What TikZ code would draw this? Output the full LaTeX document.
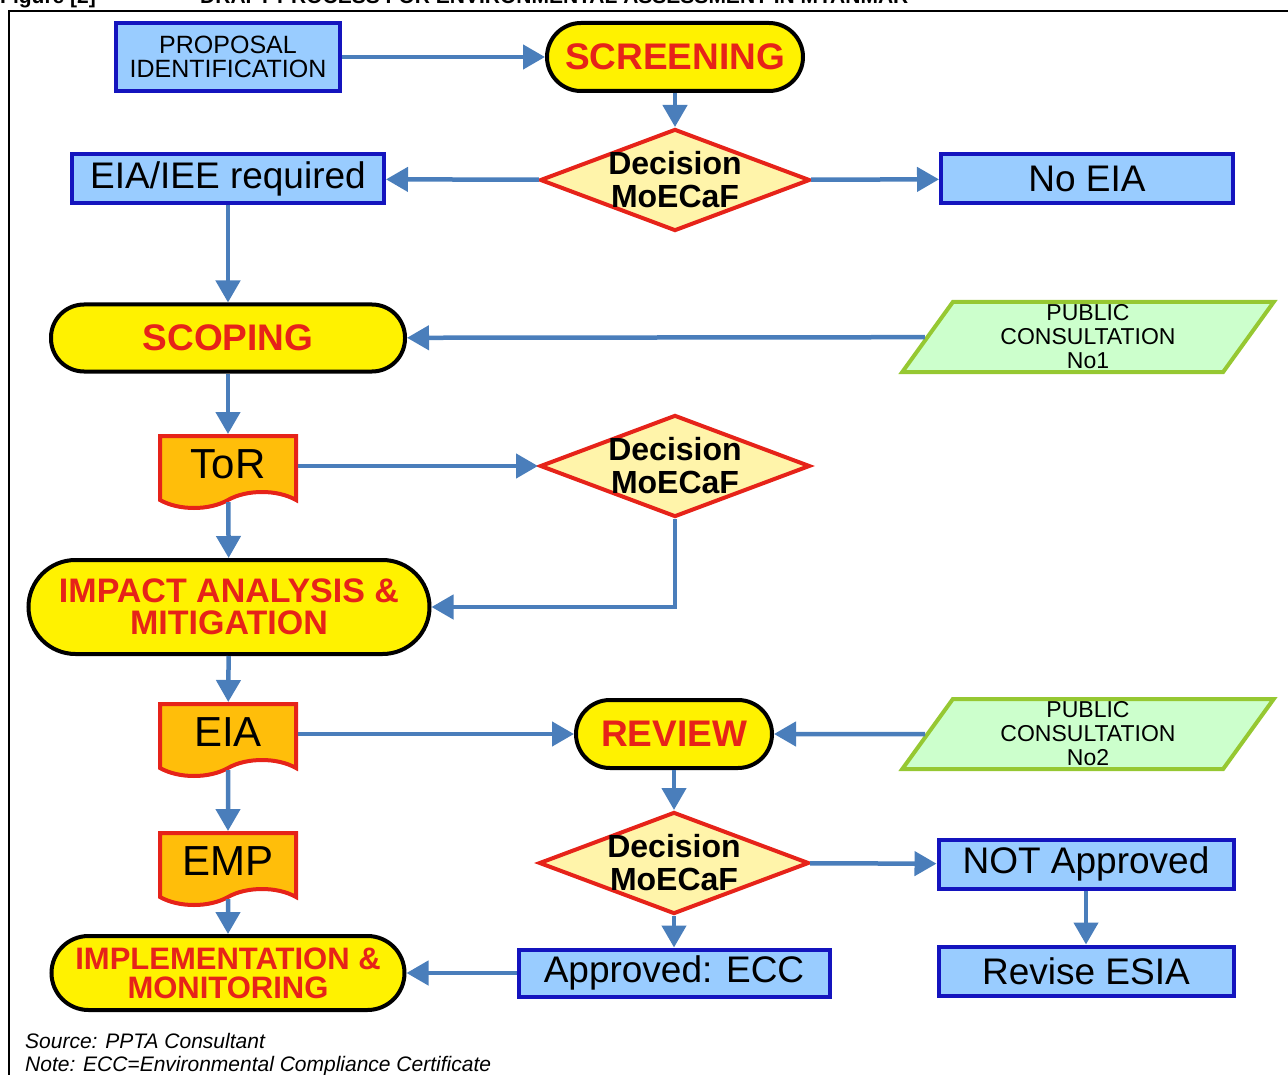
\documentclass[tikz,border=0pt]{standalone}
\usepackage{fontspec}
\setmainfont{Liberation Sans}
\usetikzlibrary{arrows.meta}
\usetikzlibrary{shapes}
\usetikzlibrary{backgrounds}

\definecolor{flowblue}{RGB}{74,126,187}
\definecolor{boxfill}{RGB}{153,204,255}
\definecolor{boxline}{RGB}{20,20,190}
\definecolor{termred}{RGB}{230,35,25}
\definecolor{decfill}{RGB}{255,244,170}
\definecolor{docfill}{RGB}{255,190,10}
\definecolor{pcfill}{RGB}{204,255,204}
\definecolor{pcline}{RGB}{150,200,50}

\newcommand{\fsize}[2]{\fontsize{#1}{#2}\selectfont}

\begin{document}
\begin{tikzpicture}[x=1pt, y=-1pt,
    bluebox/.style={draw=boxline, fill=boxfill, line width=4pt, rectangle, inner sep=2pt, align=center, font=\fsize{37}{38}},
    termbox/.style={draw=black, fill=yellow, line width=4pt, rectangle, rounded corners=34pt, inner sep=2pt, align=center, text=termred, font=\bfseries\fsize{37}{32}},
    decision/.style={draw=termred, fill=decfill, line width=4pt, diamond, minimum width=270pt, minimum height=102pt, inner sep=0pt},
    dectext/.style={align=center, font=\bfseries\fsize{32}{33}},
    docbox/.style={draw=termred, fill=docfill, line width=4pt, tape, tape bend top=none, tape bend height=16pt, minimum width=136pt, minimum height=72pt, font=\fsize{42}{42}},
    pcbox/.style={draw=pcline, fill=pcfill, line width=4pt, trapezium, trapezium left angle=63, trapezium right angle=117, trapezium stretches=true, minimum width=372pt, minimum height=70pt, inner sep=0pt, align=center, font=\fsize{23}{24}},
    flow/.style={draw=flowblue, line width=4.5pt, -{Triangle[length=22pt, width=24pt]}}]

    \useasboundingbox (0, 0) rectangle (1288, 1075);

    % Declare the frame and heading
    \draw[line width=2pt] (9, 1090) -- (9, 11) -- (1300, 11);
    \node[anchor=base west, inner sep=0pt, font=\bfseries\fsize{21}{22}] at (0, 4) (fig) {Figure [2]};
    \node[anchor=base west, inner sep=0pt, font=\bfseries\fsize{21}{22}] at (200, 4) (title) {DRAFT PROCESS FOR ENVIRONMENTAL ASSESSMENT IN MYANMAR};

    % Declare the states
    \node[bluebox, minimum width=224pt, minimum height=68pt, font=\fsize{25}{24}] at (228, 57) (prop) {PROPOSAL\\IDENTIFICATION};
    \node[termbox, minimum width=256pt, minimum height=68pt] at (675, 57) (scr) {SCREENING};
    \node[decision, label={[dectext]center:Decision\\MoECaF}] at (675, 180) (dec1) {};
    \node[bluebox, minimum width=312pt, minimum height=49pt] at (228, 179) (eiareq) {EIA/IEE required};
    \node[bluebox, minimum width=292pt, minimum height=49pt] at (1087, 179) (noeia) {No EIA};
    \node[termbox, minimum width=354pt, minimum height=67pt, rounded corners=33pt] at (228, 338) (scop) {SCOPING};
    \node[pcbox] at (1088, 337) (pc1) {PUBLIC\\CONSULTATION\\No1};
    \node[docbox] at (228, 464) (tor) {ToR};
    \node[decision, label={[dectext]center:Decision\\MoECaF}] at (675, 466) (dec2) {};
    \node[termbox, minimum width=401pt, minimum height=94pt, rounded corners=47pt, font=\bfseries\fsize{34}{32}] at (229, 607) (impact) {IMPACT ANALYSIS \&\\MITIGATION};
    \node[docbox] at (228, 732) (eia) {EIA};
    \node[termbox, minimum width=196pt, minimum height=68pt] at (674, 734) (rev) {REVIEW};
    \node[pcbox] at (1088, 734) (pc2) {PUBLIC\\CONSULTATION\\No2};
    \node[docbox] at (228, 861) (emp) {EMP};
    \node[decision, label={[dectext]center:Decision\\MoECaF}] at (674, 863) (dec3) {};
    \node[bluebox, minimum width=295pt, minimum height=49pt] at (1086, 864) (notapp) {NOT Approved};
    \node[bluebox, minimum width=311pt, minimum height=47pt] at (674, 973) (ecc) {Approved: ECC};
    \node[bluebox, minimum width=295pt, minimum height=49pt] at (1086, 971) (revise) {Revise ESIA};
    \node[termbox, minimum width=353pt, minimum height=74pt, rounded corners=37pt, font=\bfseries\fsize{31}{29}] at (228, 973) (impl) {IMPLEMENTATION \&\\MONITORING};

    % Declare edges
    \draw[flow] (prop) -- (scr);
    \draw[flow] (scr) -- (dec1);
    \draw[flow] (dec1) -- (eiareq);
    \draw[flow] (dec1) -- (noeia);
    \draw[flow] (eiareq) -- (scop);
    \draw[flow] (pc1) -- (scop);
    \draw[flow] (scop) -- (tor);
    \draw[flow] (tor.east |- dec2) -- (dec2);
    \draw[flow] (tor) -- (impact);
    \draw[flow] (dec2) |- (impact);
    \draw[flow] (impact) -- (eia);
    \draw[flow] (eia.east |- rev) -- (rev);
    \draw[flow] (pc2) -- (rev);
    \draw[flow] (eia) -- (emp);
    \draw[flow] (rev) -- (dec3);
    \draw[flow] (dec3) -- (notapp);
    \draw[flow] (dec3) -- (ecc);
    \draw[flow] (notapp) -- (revise);
    \draw[flow] (ecc) -- (impl);
    \draw[flow] (emp) -- (impl);

    % Declare notes
    \node[anchor=base west, inner sep=0pt, font=\itshape\fsize{21}{22}] at (25, 1048) (src) {Source: PPTA Consultant};
    \node[anchor=base west, inner sep=0pt, font=\itshape\fsize{21}{22}] at (25, 1071) (note) {Note: ECC=Environmental Compliance Certificate};

\end{tikzpicture}
\end{document}
